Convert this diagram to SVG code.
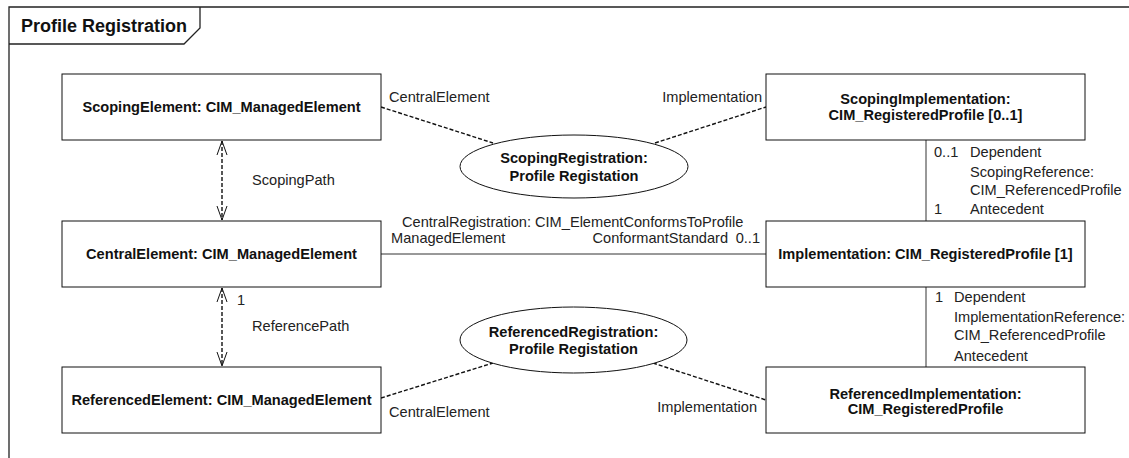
<svg xmlns="http://www.w3.org/2000/svg" width="1129" height="458" viewBox="0 0 1129 458">
  <style>
    .frame { fill: none; stroke: #222; stroke-width: 1.3; }
    .box { fill: #fff; stroke: #111; stroke-width: 1; }
    .ell { fill: #fff; stroke: #111; stroke-width: 1; }
    .solid { fill: none; stroke: #333; stroke-width: 1; }
    .dash { fill: none; stroke: #111; stroke-width: 1.4; stroke-dasharray: 4 2; }
    .head { fill: none; stroke: #111; stroke-width: 1; }
    .title { font-family: "Liberation Sans", Arial, sans-serif; font-size: 18px; font-weight: bold; fill: #111; }
    .bold { font-family: "Liberation Sans", Arial, sans-serif; font-size: 14.6px; font-weight: bold; fill: #111; text-anchor: middle; }
    .lbl { font-family: "Liberation Sans", Arial, sans-serif; font-size: 14.6px; fill: #222; }
    .end { text-anchor: end; }
  </style>
  <rect width="1129" height="458" fill="#fff"/>

  <!-- diagram frame with name tab -->
  <g id="frame">
    <path class="frame" d="M9,458 V7 H1129"/>
    <path class="frame" d="M9,44 H184 L200,28 V7"/>
    <text class="title" x="21" y="31.5">Profile Registration</text>
  </g>

  <!-- connectors -->
  <g id="connectors">
    <!-- ScopingPath -->
    <line class="dash" x1="222" y1="141" x2="222" y2="220"/>
    <path class="head" d="M217,155 L222,141 L227,155 M217,206 L222,220 L227,206"/>
    <!-- ReferencePath -->
    <line class="dash" x1="222" y1="288" x2="222" y2="366"/>
    <path class="head" d="M217,302 L222,288 L227,302 M217,352 L222,366 L227,352"/>

    <!-- ScopingRegistration -->
    <line class="dash" x1="381" y1="107" x2="493" y2="143"/>
    <line class="dash" x1="655" y1="143" x2="766" y2="107"/>
    <!-- ReferencedRegistration -->
    <line class="dash" x1="381" y1="398" x2="493" y2="363"/>
    <line class="dash" x1="653" y1="363" x2="766" y2="400"/>

    <!-- CentralRegistration -->
    <line class="solid" x1="381" y1="254" x2="766" y2="254"/>
    <!-- ScopingReference / ImplementationReference -->
    <line class="solid" x1="926" y1="140" x2="926" y2="221"/>
    <line class="solid" x1="926" y1="287" x2="926" y2="367"/>
  </g>

  <!-- connector labels -->
  <g id="connector-labels">
    <text class="lbl" x="252" y="185">ScopingPath</text>
    <text class="lbl" x="237" y="305">1</text>
    <text class="lbl" x="252" y="331">ReferencePath</text>

    <text class="lbl" x="389" y="102">CentralElement</text>
    <text class="lbl end" x="762" y="102">Implementation</text>
    <text class="lbl" x="389" y="417">CentralElement</text>
    <text class="lbl end" x="757" y="412">Implementation</text>

    <text class="lbl" x="402" y="227">CentralRegistration: CIM_ElementConformsToProfile</text>
    <text class="lbl" x="391" y="243">ManagedElement</text>
    <text class="lbl end" x="728" y="243">ConformantStandard</text>
    <text class="lbl end" x="760" y="243">0..1</text>

    <text class="lbl" x="934" y="157">0..1</text>
    <text class="lbl" x="970" y="157">Dependent</text>
    <text class="lbl" x="970" y="177">ScopingReference:</text>
    <text class="lbl" x="970" y="195">CIM_ReferencedProfile</text>
    <text class="lbl" x="934" y="214">1</text>
    <text class="lbl" x="970" y="214">Antecedent</text>

    <text class="lbl" x="935" y="302">1</text>
    <text class="lbl" x="954" y="302">Dependent</text>
    <text class="lbl" x="954" y="322">ImplementationReference:</text>
    <text class="lbl" x="954" y="340">CIM_ReferencedProfile</text>
    <text class="lbl" x="954" y="361">Antecedent</text>
  </g>

  <!-- nodes -->
  <g id="scoping-element">
    <rect class="box" x="62" y="74" width="319" height="66"/>
    <text class="bold" x="221.5" y="112">ScopingElement: CIM_ManagedElement</text>
  </g>
  <g id="central-element">
    <rect class="box" x="62" y="221" width="319" height="66"/>
    <text class="bold" x="221.5" y="259">CentralElement: CIM_ManagedElement</text>
  </g>
  <g id="referenced-element">
    <rect class="box" x="62" y="367" width="319" height="66"/>
    <text class="bold" x="221.5" y="405">ReferencedElement: CIM_ManagedElement</text>
  </g>
  <g id="scoping-implementation">
    <rect class="box" x="766" y="74" width="319" height="66"/>
    <text class="bold" x="925.5" y="103.5">ScopingImplementation:</text>
    <text class="bold" x="925.5" y="120">CIM_RegisteredProfile [0..1]</text>
  </g>
  <g id="implementation">
    <rect class="box" x="766" y="221" width="319" height="66"/>
    <text class="bold" x="925.5" y="259">Implementation: CIM_RegisteredProfile [1]</text>
  </g>
  <g id="referenced-implementation">
    <rect class="box" x="766" y="367" width="319" height="66"/>
    <text class="bold" x="925.5" y="398.5">ReferencedImplementation:</text>
    <text class="bold" x="925.5" y="414">CIM_RegisteredProfile</text>
  </g>
  <g id="scoping-registration">
    <ellipse class="ell" cx="574" cy="166.5" rx="114" ry="31.5"/>
    <text class="bold" x="574" y="163">ScopingRegistration:</text>
    <text class="bold" x="574" y="181">Profile Registation</text>
  </g>
  <g id="referenced-registration">
    <ellipse class="ell" cx="573.5" cy="340" rx="113.5" ry="33"/>
    <text class="bold" x="573.5" y="337">ReferencedRegistration:</text>
    <text class="bold" x="573.5" y="353.5">Profile Registation</text>
  </g>
</svg>
